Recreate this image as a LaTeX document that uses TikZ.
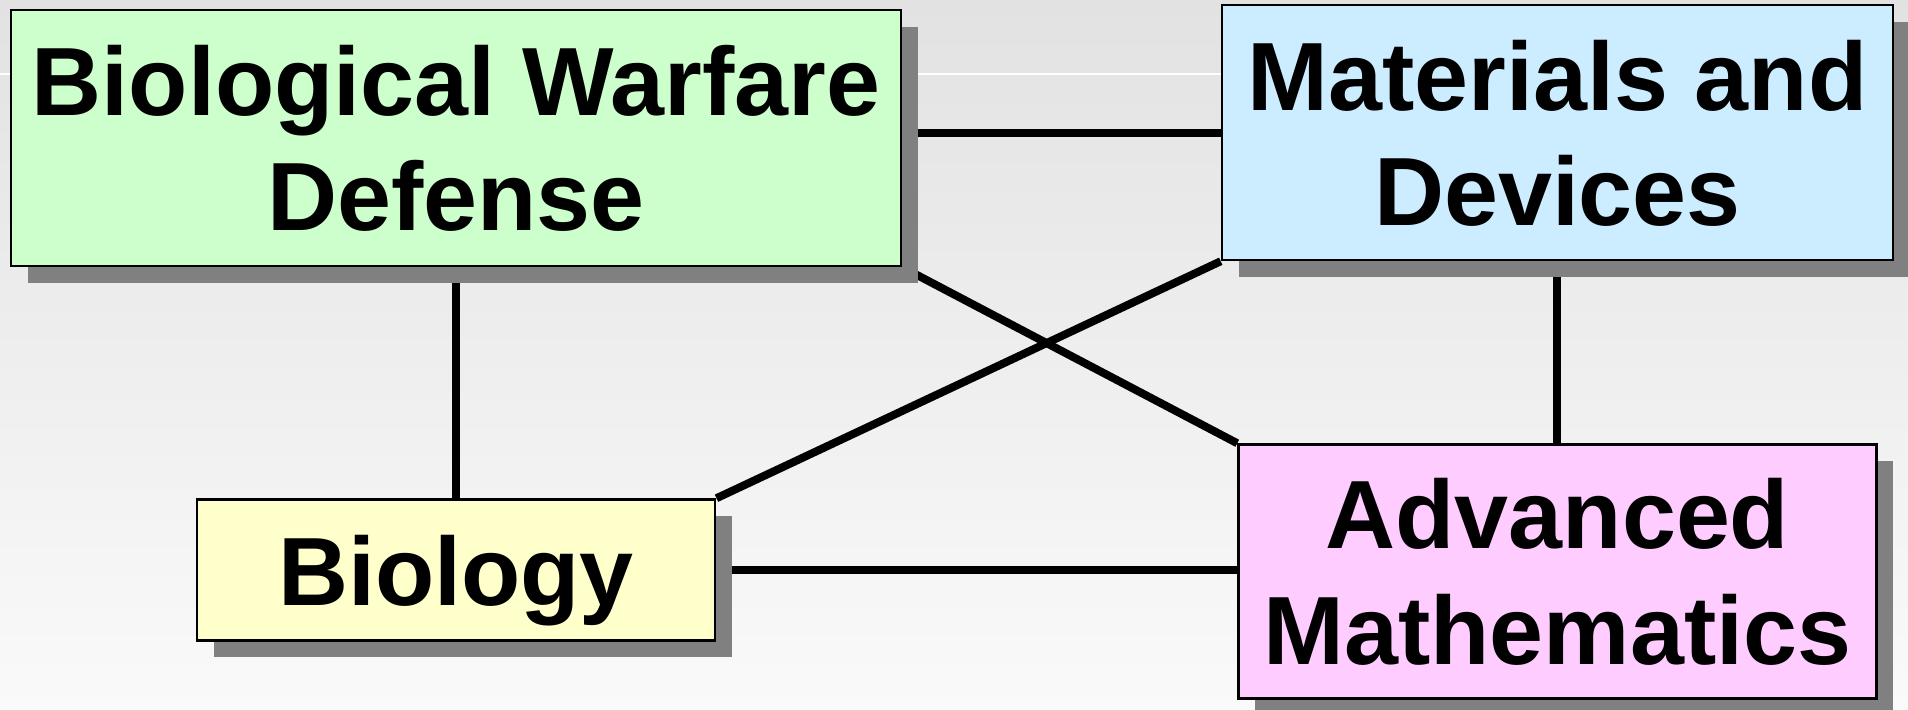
\documentclass[tikz,border=0pt]{standalone}
\usepackage{fontspec}
\setmainfont{Liberation Sans}
\usetikzlibrary{positioning,shadows,backgrounds}
\definecolor{bwdgreen}{RGB}{204,255,204}
\definecolor{mdblue}{RGB}{204,236,255}
\definecolor{bioyellow}{RGB}{255,255,204}
\definecolor{ampink}{RGB}{255,204,255}
\definecolor{shadowgray}{RGB}{128,128,128}
\definecolor{bgtop}{RGB}{226,226,226}
\definecolor{bgbottom}{RGB}{250,250,250}
\def\dx{3.185cm}
\def\dy{2.31cm}
\tikzstyle{field}=[draw=black,line width=0.7pt,rectangle,align=center,
  inner sep=0pt,text depth=0pt,
  font=\fontsize{27.6}{32.8}\selectfont\bfseries,
  drop shadow={shadow xshift=0.17cm,shadow yshift=-0.17cm,fill=shadowgray,opacity=1}]
\tikzstyle{link}=[draw=black,line width=2.27pt]
\newcommand{\newField}[4]{\node[field,#3](#1)[#4]{#2};}
\newcommand{\newLink}[3]{\draw[link,#3] (#1) -- (#2);}

\begin{document}
\begin{tikzpicture}
      \useasboundingbox (-4.56,1.38) rectangle (14.52,-5.71);
      \newField{bwd}{Biological Warfare\\Defense}{fill=bwdgreen}{minimum width=8.9cm,minimum height=2.56cm}
      \newField{md}{Materials and\\Devices}{fill=mdblue,right=\dx of bwd,yshift=0.055cm}{minimum width=6.71cm,minimum height=2.55cm}
      \newField{bio}{Biology}{fill=bioyellow,below=\dy of bwd}{minimum width=5.185cm,minimum height=1.41cm}
      \newField{am}{Advanced\\Mathematics}{fill=ampink,below=1.82cm of md}{minimum width=6.38cm,minimum height=2.54cm}
      \begin{scope}[on background layer]
        % slide background
        \shade[top color=bgtop,bottom color=bgbottom] (-4.56,1.38) rectangle (14.52,-5.71);
        \draw[white,line width=0.3pt] (-4.56,0.64) -- (md.west |- 0,0.64);
        \newLink{md.west}{md.west -| bwd.east}{}
        \newLink{bio.east}{bio.east -| am.west}{}
        \newLink{bio.north}{bio.north |- bwd.south}{}
        \newLink{md.south}{md.south |- am.north}{}
        \newLink{bio.north east}{md.south west}{}
        \newLink{bwd.south east}{am.north west}{}
      \end{scope}
    \end{tikzpicture}
\end{document}
